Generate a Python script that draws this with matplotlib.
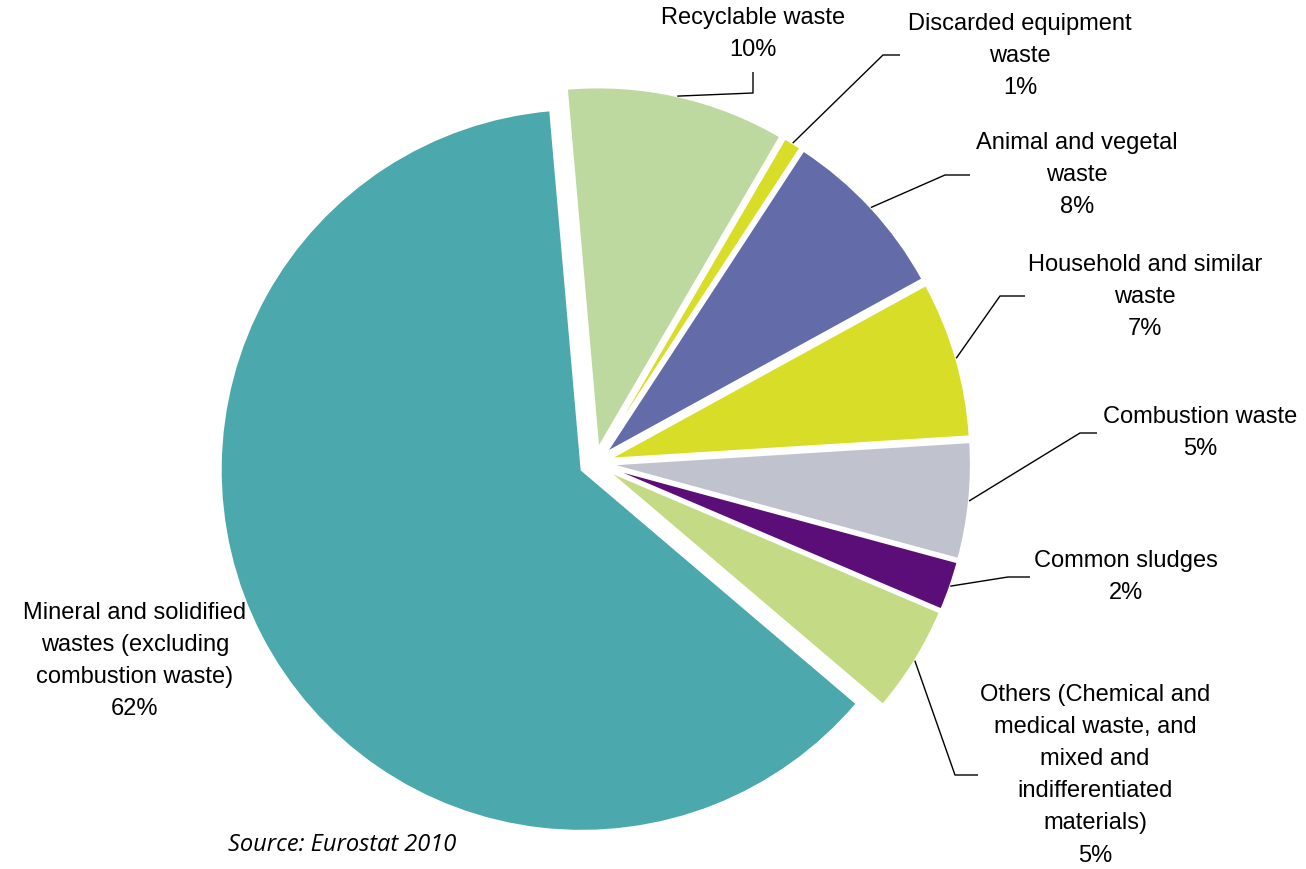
import numpy as np
import matplotlib
matplotlib.use('Agg')
import matplotlib.pyplot as plt

# --- Data ---
categories = [
    'Recyclable waste',
    'Discarded equipment\nwaste',
    'Animal and vegetal\nwaste',
    'Household and similar\nwaste',
    'Combustion waste',
    'Common sludges',
    'Others (Chemical and\nmedical waste, and\nmixed and\nindifferentiated\nmaterials)',
    'Mineral and solidified\nwastes (excluding\ncombustion waste)',
]
values = [9.8, 0.8, 7.8, 7.0, 5.2, 2.2, 4.8, 62.4]
colors = ['#BDD99F', '#D8DE28', '#636BA9', '#D8DE28',
          '#C0C2CE', '#5C0E78', '#C5DA84', '#4BA8AC']

W, H = 1306, 869
CX, CY = 595, 463      # pie centre in screen pixels
R = 361
EXPLODE = 15           # pie() takes the offset in data units, i.e. pixels here
START = 95

FONT = 'Liberation Sans'


def P(x, y):
    """screen pixel -> data coords (y flipped)"""
    return x, H - y


fig = plt.figure(figsize=(W / 100, H / 100), dpi=100, facecolor='white')
ax = fig.add_axes([0, 0, 1, 1])

wedges, _ = ax.pie(values, colors=colors, startangle=START, counterclock=False,
                   radius=R, center=P(CX, CY), explode=[EXPLODE] * len(values),
                   wedgeprops=dict(linewidth=1.5, edgecolor='white'))
ax.set_xlim(0, W)
ax.set_ylim(0, H)
ax.set_aspect('equal')
ax.axis('off')

# label layout: (text centre x, text centre y, leader elbow, leader end) in screen px
layout = [
    (753, 34, (753, 93), (753, 72)),
    (1020, 56, (883, 55), (900, 55)),
    (1077, 175, (945, 175), (970, 175)),
    (1145, 297, (1000, 296), (1025, 296)),
    (1200, 433, (1080, 433), (1097, 433)),
    (1126, 577, (1008, 577), (1030, 577)),
    (1095, 775, (955, 775), (978, 775)),
    (135, 661, None, None),
]

for w, cat, val, (tx, ty, elbow, end) in zip(wedges, categories, values, layout):
    ax.text(*P(tx, ty), f'{cat}\n{round(val):.0f}%', ha='center', va='center',
            fontsize=17, family=FONT, color='black', linespacing=1.6)
    if elbow is None:
        continue
    mid = np.deg2rad((w.theta1 + w.theta2) / 2)
    ox = w.center[0] + R * np.cos(mid)
    oy = w.center[1] + R * np.sin(mid)
    ex, ey = P(*elbow)
    nx, ny = P(*end)
    ax.plot([ox, ex, nx], [oy, ey, ny], color='black', linewidth=1.0,
            solid_capstyle='butt')

ax.text(*P(228, 845), 'Source: Eurostat 2010', ha='left', va='center',
        fontsize=17, family='Open Sans', style='italic', color='black')

fig.savefig('out.png', dpi=100, facecolor='white')
plt.close(fig)
